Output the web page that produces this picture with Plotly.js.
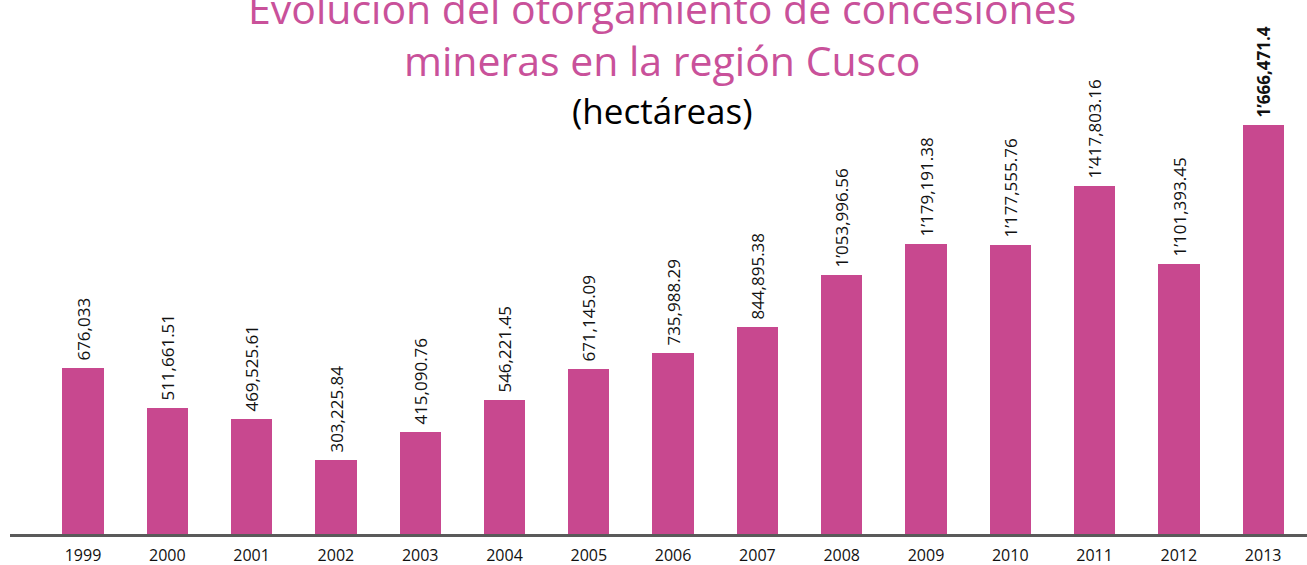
<!DOCTYPE html>
<html>
<head>
<meta charset="utf-8">
<script src="https://cdn.plot.ly/plotly-3.0.1.min.js"></script>
<style>
  html, body { margin: 0; padding: 0; background: #fff; }
  #chart { width: 1307px; height: 565px; }
</style>
</head>
<body>
<div id="chart"></div>
<script>
var config = { responsive: false, displayModeBar: false }

// años y hectáreas otorgadas
var years = ['1999', '2000', '2001', '2002', '2003', '2004', '2005', '2006',
             '2007', '2008', '2009', '2010', '2011', '2012', '2013'];
var hectares = [676033, 511661.51, 469525.61, 303225.84, 415090.76, 546221.45,
                671145.09, 735988.29, 844895.38, 1053996.56, 1179191.38,
                1177555.76, 1417803.16, 1101393.45, 1666471.4];
var labels = ['676,033', '511,661.51', '469,525.61', '303,225.84', '415,090.76',
              '546,221.45', '671,145.09', '735,988.29', '844,895.38',
              '1\u2019053,996.56', '1\u2019179,191.38', '1\u2019177,555.76',
              '1\u2019417,803.16', '1\u2019101,393.45', '<b>1\u2019666,471.4</b>'];

var pink = '#C8488F';

// leading nbsp pushes the rotated label a bit off the bar top
var barText = labels.map(function (t) { return '\u00A0' + t; });

var data = [{
    x: years,
    y: hectares,
    type: 'bar',
    width: 0.49,
    marker: { color: pink },
    text: barText,
    textposition: 'outside',
    textangle: -90,
    constraintext: 'none',
    cliponaxis: false,
    textfont: { family: 'Open Sans', size: 17, color: '#111' },
    hoverinfo: 'skip'
}];

var layout = {
    width: 1307,
    height: 565,
    margin: { l: 10, r: 0, t: 0, b: 31, pad: 0 },
    paper_bgcolor: '#fff',
    plot_bgcolor: '#fff',
    showlegend: false,
    bargap: 0,
    xaxis: {
        type: 'category',
        range: [-0.866, 14.52],
        showline: true,
        linecolor: '#5a5a5a',
        linewidth: 3,
        ticks: '',
        ticklabelstandoff: 5,
        tickfont: { family: 'Open Sans', size: 16, color: '#111' },
        showgrid: false,
        zeroline: false,
        fixedrange: true
    },
    yaxis: {
        range: [0, 2175000],
        visible: false,
        showgrid: false,
        zeroline: false,
        fixedrange: true
    },
    annotations: [
        {
            text: 'Evolución del otorgamiento de concesiones',
            xref: 'paper', yref: 'paper', x: 0.503, y: 0.985,
            xanchor: 'center', yanchor: 'middle', showarrow: false,
            font: { family: 'Open Sans', size: 41, color: '#C9519A' }
        },
        {
            text: 'mineras en la región Cusco',
            xref: 'paper', yref: 'paper', x: 0.503, y: 0.888,
            xanchor: 'center', yanchor: 'middle', showarrow: false,
            font: { family: 'Open Sans', size: 41, color: '#C9519A' }
        },
        {
            text: '(hectáreas)',
            xref: 'paper', yref: 'paper', x: 0.503, y: 0.794,
            xanchor: 'center', yanchor: 'middle', showarrow: false,
            font: { family: 'Open Sans', size: 35, color: '#000' }
        }
    ]
};

Plotly.newPlot('chart', data, layout, config);
</script>
</body>
</html>
